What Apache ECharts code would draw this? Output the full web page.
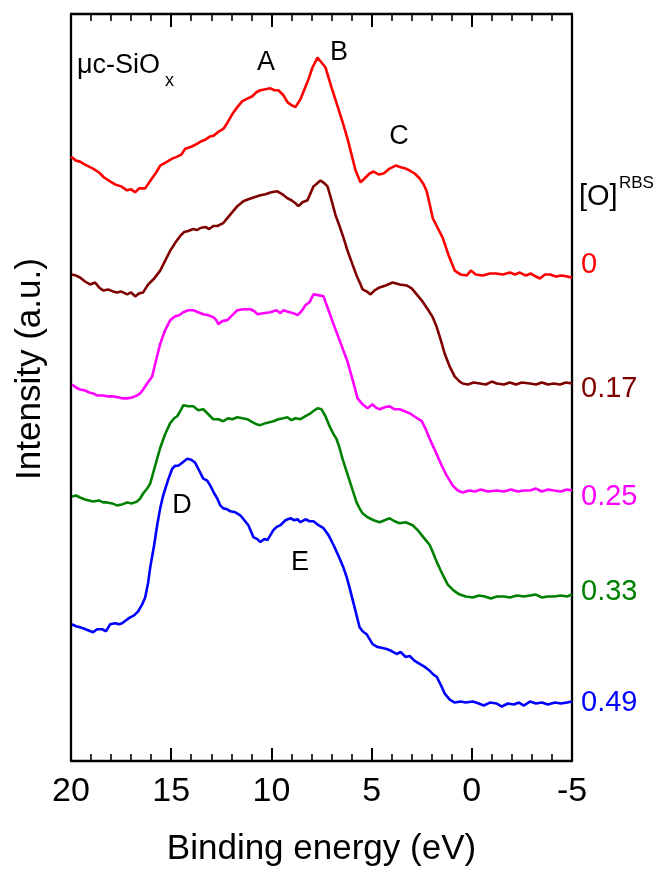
<!DOCTYPE html>
<html>
<head>
<meta charset="utf-8">
<script src="https://cdn.jsdelivr.net/npm/echarts@6/dist/echarts.min.js"></script>
<style>
  html, body { margin: 0; padding: 0; background: #fff; }
  #chart { width: 659px; height: 872px; }
</style>
</head>
<body>
<div id="chart"></div>
<script>
// Valence-band spectra of μc-SiOx films, offset vertically (a.u.)
// Each point: [binding energy (eV), intensity (a.u.)]
const spectrum0 = [[20.0,610],[19.75,606],[19.55,605],[19.3,602],[19.1,600],[18.9,598],[18.6,594],[18.35,589],[18.05,585],[17.8,582],[17.5,580],[17.2,576],[17.0,577],[16.8,574],[16.6,578],[16.3,578],[16.0,587],[15.75,594],[15.55,601],[15.2,605],[14.95,608],[14.7,610],[14.5,612],[14.3,618],[14.0,620],[13.8,622],[13.55,625],[13.3,627],[13.1,630],[12.9,631],[12.65,635],[12.4,638],[12.2,644],[11.95,653],[11.7,660],[11.45,666],[11.25,668],[10.95,671],[10.75,675],[10.55,677],[10.3,678],[10.05,679],[9.85,677],[9.65,677],[9.4,672],[9.2,665],[9.0,662],[8.8,660],[8.55,668],[8.35,678],[8.15,688],[7.95,700],[7.7,710],[7.5,705],[7.3,700],[7.0,680],[6.7,661],[6.45,645],[6.2,628],[6.0,612],[5.8,596],[5.55,584],[5.3,589],[5.1,593],[4.9,595],[4.65,592],[4.4,593],[4.1,598],[3.8,601],[3.5,599],[3.3,598],[3.1,596],[2.85,593],[2.6,588],[2.4,582],[2.25,575],[2.1,562],[1.95,548],[1.7,538],[1.45,528],[1.15,510],[0.85,495],[0.55,491],[0.25,490],[0.05,495],[-0.2,491],[-0.55,490],[-0.9,492],[-1.2,492],[-1.55,491],[-1.9,493],[-2.15,491],[-2.4,493],[-2.7,490],[-2.95,492],[-3.2,489],[-3.4,487],[-3.65,491],[-3.9,491],[-4.2,489],[-4.5,490],[-4.75,489],[-5.0,488]];
const spectrum17 = [[19.95,491],[19.75,490],[19.55,488],[19.3,484],[19.05,481],[18.8,483],[18.6,478],[18.4,475],[18.15,476],[17.9,474],[17.7,473],[17.5,474],[17.2,471],[17.0,473],[16.8,469],[16.6,472],[16.4,473],[16.15,481],[15.85,487],[15.55,495],[15.3,505],[15.05,515],[14.8,523],[14.55,530],[14.35,534],[14.15,535],[13.9,537],[13.7,536],[13.55,538],[13.3,539],[13.1,537],[12.9,540],[12.7,540],[12.4,543],[12.2,548],[11.95,554],[11.7,560],[11.4,565],[11.15,567],[10.85,569],[10.55,571],[10.3,572],[10.0,574],[9.7,575],[9.45,572],[9.2,568],[9.0,566],[8.8,563],[8.65,560],[8.45,564],[8.2,566],[7.9,580],[7.55,586],[7.35,583],[7.2,580],[7.0,566],[6.8,551],[6.6,540],[6.4,528],[6.2,515],[5.95,501],[5.75,490],[5.55,481],[5.45,476],[5.25,474],[5.05,471],[4.85,475],[4.6,478],[4.3,480],[3.95,483],[3.6,481],[3.25,480],[3.0,477],[2.75,471],[2.5,465],[2.2,456],[1.95,448],[1.75,438],[1.55,425],[1.35,411],[1.1,398],[0.85,388],[0.6,383],[0.45,381],[0.2,380],[-0.1,382],[-0.4,381],[-0.7,380],[-1.0,383],[-1.25,381],[-1.6,380],[-1.9,382],[-2.2,380],[-2.5,382],[-2.9,381],[-3.2,380],[-3.5,382],[-3.8,380],[-4.1,381],[-4.4,380],[-4.7,382],[-5.0,381]];
const spectrum25 = [[19.95,380],[19.75,377],[19.55,375],[19.3,374],[19.1,372],[18.9,371],[18.7,369],[18.4,369],[18.15,368],[17.9,368],[17.6,367],[17.4,366],[17.2,366],[16.95,367],[16.7,369],[16.55,371],[16.4,375],[16.2,381],[15.95,388],[15.75,405],[15.55,421],[15.3,435],[15.05,445],[14.8,449],[14.6,450],[14.4,453],[14.15,455],[13.9,455],[13.65,453],[13.4,451],[13.15,450],[12.9,448],[12.75,445],[12.65,441],[12.45,444],[12.2,445],[11.95,450],[11.7,455],[11.4,456],[11.05,456],[10.85,454],[10.7,451],[10.4,452],[10.05,453],[9.75,455],[9.55,452],[9.4,455],[9.1,453],[8.9,452],[8.7,450],[8.5,454],[8.3,460],[8.1,463],[7.9,471],[7.6,470],[7.4,469],[7.15,455],[6.9,441],[6.55,422],[6.2,403],[5.95,385],[5.7,366],[5.45,360],[5.2,356],[4.95,360],[4.8,357],[4.6,355],[4.35,357],[4.1,358],[3.85,355],[3.6,355],[3.35,353],[3.1,351],[2.8,347],[2.5,343],[2.3,335],[2.1,325],[1.8,312],[1.5,298],[1.25,288],[0.95,278],[0.7,273],[0.45,271],[0.15,273],[-0.15,272],[-0.45,274],[-0.8,272],[-1.25,273],[-1.6,272],[-1.95,274],[-2.3,272],[-2.6,273],[-2.9,273],[-3.2,275],[-3.5,272],[-3.8,274],[-4.1,273],[-4.45,272],[-4.75,274],[-5.0,273]];
const spectrum33 = [[19.95,267],[19.75,268],[19.55,266],[19.3,264],[19.1,263],[18.9,262],[18.6,263],[18.4,261],[18.2,261],[17.95,260],[17.7,258],[17.45,259],[17.2,261],[16.95,260],[16.7,262],[16.55,265],[16.4,270],[16.2,275],[16.05,280],[15.8,298],[15.55,316],[15.3,330],[15.05,341],[14.85,346],[14.7,348],[14.5,355],[14.4,359],[14.15,358],[13.9,358],[13.65,354],[13.4,355],[13.15,350],[12.9,345],[12.65,345],[12.4,343],[12.15,346],[11.95,345],[11.7,347],[11.45,346],[11.2,345],[10.95,342],[10.75,340],[10.55,339],[10.3,341],[10.1,342],[9.9,343],[9.65,345],[9.4,346],[9.2,347],[9.0,344],[8.8,346],[8.55,345],[8.3,348],[8.05,351],[7.85,354],[7.7,356],[7.5,355],[7.3,348],[7.1,338],[6.9,330],[6.75,325],[6.6,316],[6.45,305],[6.1,283],[5.75,261],[5.6,255],[5.45,250],[5.2,246],[4.9,243],[4.6,241],[4.35,243],[4.1,245],[3.85,242],[3.6,240],[3.3,241],[2.95,238],[2.7,233],[2.5,228],[2.3,223],[2.1,218],[1.95,211],[1.75,201],[1.5,190],[1.2,178],[0.9,172],[0.6,168],[0.3,166],[-0.05,165],[-0.35,167],[-0.65,166],[-0.95,164],[-1.25,166],[-1.6,166],[-1.9,165],[-2.25,167],[-2.6,166],[-2.9,167],[-3.2,168],[-3.5,165],[-3.8,166],[-4.1,166],[-4.45,167],[-4.75,166],[-5.0,168]];
const spectrum49 = [[19.95,138],[19.75,136],[19.55,135],[19.4,134],[19.15,132],[18.9,130],[18.7,133],[18.45,133],[18.25,131],[18.05,138],[17.8,139],[17.6,138],[17.45,139],[17.25,142],[17.05,145],[16.85,147],[16.65,151],[16.45,158],[16.3,165],[16.15,180],[16.05,195],[15.85,218],[15.7,238],[15.55,255],[15.4,268],[15.15,284],[14.95,295],[14.8,298],[14.65,298],[14.45,301],[14.2,305],[14.0,304],[13.8,301],[13.6,293],[13.4,285],[13.2,283],[13.05,278],[12.85,270],[12.7,265],[12.55,258],[12.4,255],[12.2,254],[12.05,252],[11.8,251],[11.55,248],[11.35,243],[11.15,238],[10.9,226],[10.7,224],[10.55,221],[10.35,224],[10.2,223],[10.05,228],[9.9,233],[9.75,236],[9.55,238],[9.3,243],[9.05,245],[8.85,243],[8.7,244],[8.55,241],[8.3,244],[8.1,242],[7.9,242],[7.65,238],[7.4,235],[7.15,228],[6.9,218],[6.65,207],[6.4,195],[6.25,186],[6.1,175],[5.85,155],[5.6,135],[5.45,131],[5.25,128],[5.1,123],[4.95,118],[4.7,115],[4.45,114],[4.25,113],[4.0,111],[3.75,108],[3.55,110],[3.3,105],[3.1,106],[2.85,101],[2.6,98],[2.35,95],[2.1,91],[1.9,87],[1.75,85],[1.55,77],[1.35,68],[1.1,62],[0.85,59],[0.55,60],[0.3,59],[-0.05,60],[-0.35,58],[-0.6,56],[-0.9,59],[-1.25,58],[-1.5,55],[-1.8,58],[-2.1,57],[-2.35,59],[-2.6,56],[-2.9,60],[-3.2,58],[-3.5,59],[-3.8,57],[-4.15,59],[-4.45,58],[-4.75,59],[-5.0,60]];

// Oxygen content (RBS) for each spectrum, top to bottom
const oxygenLabels = ['0', '0.17', '0.25', '0.33', '0.49'];
const spectra = [spectrum0, spectrum17, spectrum25, spectrum33, spectrum49];
const colors = ['#ff0000', '#800000', '#ff00ff', '#008000', '#0000ff'];

// x axis (binding energy, reversed)
const xMin = -5, xMax = 20, xStep = 5;
const yMin = 0, yMax = 754;

const FONT = '"Liberation Sans", Arial, Helvetica, sans-serif';
const chart = echarts.init(document.getElementById('chart'), null, { renderer: 'canvas' });

function axisCommon(showLabels) {
  return {
    type: 'value', min: xMin, max: xMax, interval: xStep, inverse: true,
    axisLine: { show: true, onZero: false, lineStyle: { color: '#000', width: 2.3 } },
    axisTick: { show: true, inside: true, length: 13, lineStyle: { color: '#000', width: 2 } },
    minorTick: { show: true, splitNumber: 5, length: 7, lineStyle: { color: '#000', width: 1.6 } },
    splitLine: { show: false }, minorSplitLine: { show: false },
    axisLabel: { show: showLabels, fontFamily: FONT, fontSize: 34, color: '#000', margin: 14 }
  };
}

function yAxisFrame(position) {
  return {
    type: 'value', min: yMin, max: yMax, position: position,
    axisLine: { show: true, onZero: false, lineStyle: { color: '#000', width: 2.3 } },
    axisTick: { show: false }, axisLabel: { show: false }, splitLine: { show: false }
  };
}

const textStyle = (size, color) => ({ font: size + 'px ' + FONT, fill: color || '#000' });

function label(text, x, y, size, color, align, rotation) {
  return { type: 'text', x: x, y: y, rotation: rotation || 0, silent: true,
    style: Object.assign(textStyle(size, color), { text: text, align: align || 'center', verticalAlign: 'middle' }) };
}

const annotations = [
  label('Intensity (a.u.)', 30, 369, 35, '#000', 'center', Math.PI / 2),
  label('μc-SiO', 77, 66, 27, '#000', 'left'),
  label('x', 165, 81, 18, '#000', 'left'),
  label('A', 266, 63, 27),
  label('B', 339, 53, 27),
  label('C', 399, 137, 27),
  label('D', 182, 506, 27),
  label('E', 300, 563, 27),
  label('[O]', 579, 197, 29, '#000', 'left'),
  label('RBS', 619, 183, 17, '#000', 'left')
];
const rightLabelY = [265, 389, 497, 592, 703];
oxygenLabels.forEach((t, i) => annotations.push(label(t, 581, rightLabelY[i], 29, colors[i], 'left')));

chart.setOption({
  animation: false,
  backgroundColor: '#fff',
  grid: { left: 71, right: 87, top: 14, bottom: 104, containLabel: false },
  xAxis: [
    Object.assign(axisCommon(true), {
      position: 'bottom', name: 'Binding energy (eV)', nameLocation: 'middle', nameGap: 71,
      nameTextStyle: { fontFamily: FONT, fontSize: 35, color: '#000' }
    }),
    Object.assign(axisCommon(false), { position: 'top' })
  ],
  yAxis: [yAxisFrame('left'), yAxisFrame('right')],
  series: spectra.map((d, i) => ({
    type: 'line', name: oxygenLabels[i], data: d, xAxisIndex: 0, yAxisIndex: 0,
    showSymbol: false, smooth: false, clip: true,
    lineStyle: { color: colors[i], width: 2.6 }
  })),
  graphic: annotations
});
</script>
</body>
</html>
